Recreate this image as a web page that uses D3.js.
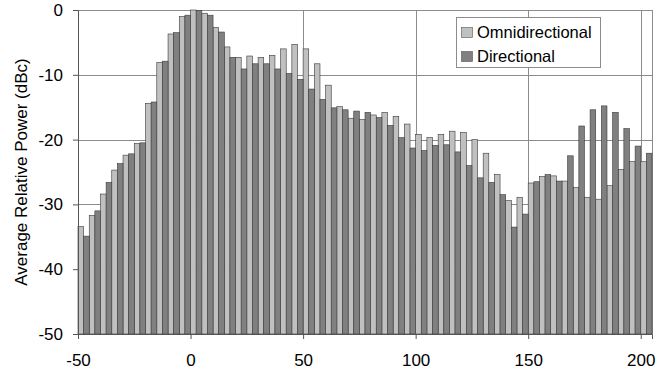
<!DOCTYPE html>
<html>
<head>
<meta charset="utf-8">
<script src="https://cdn.jsdelivr.net/npm/d3@7"></script>
<style>
  body { margin: 0; background: #fff; }
  text { font-family: "Liberation Sans", Arial, sans-serif; fill: #000; }
</style>
</head>
<body>
<svg width="671" height="371"></svg>
<script>
// offset (x) for each pair of bars
var offsets = [-50, -45, -40, -35, -30, -25, -20, -15, -10, -5,
               0, 5, 10, 15, 20, 25, 30, 35, 40, 45,
               50, 55, 60, 65, 70, 75, 80, 85, 90, 95,
               100, 105, 110, 115, 120, 125, 130, 135, 140, 145,
               150, 155, 160, 165, 170, 175, 180, 185, 190, 195, 200];

var omni = [-33.4, -31.7, -28.4, -24.7, -22.4, -20.6, -14.4, -8.1, -3.7, -1.0,
            0.0, -0.5, -2.7, -5.7, -7.3, -7.1, -7.3, -7.0, -6.0, -5.3,
            -6.0, -8.3, -11.6, -14.9, -16.7, -16.9, -16.2, -15.8, -16.4, -17.6,
            -19.2, -19.7, -19.2, -18.7, -18.9, -20.0, -22.1, -25.4, -29.4, -28.9,
            -26.7, -25.7, -25.6, -26.4, -27.4, -28.9, -29.2, -27.1, -24.6, -23.4, -23.4];

var directional = [-34.9, -31.0, -26.6, -23.7, -22.2, -20.5, -14.2, -7.9, -3.5, -0.8,
                   -0.1, -0.8, -3.4, -7.3, -9.1, -8.3, -8.3, -9.1, -9.8, -10.7,
                   -12.2, -13.8, -15.1, -15.4, -15.6, -15.8, -16.6, -17.8, -19.7, -21.3,
                   -21.7, -20.9, -20.8, -21.9, -24.0, -25.9, -26.6, -28.5, -33.5, -31.5,
                   -26.5, -25.4, -26.4, -22.5, -17.9, -15.4, -14.8, -15.8, -18.3, -21.0, -22.1];

var seriesNames = ["Omnidirectional", "Directional"];
var xTicks = [-50, 0, 50, 100, 150, 200];
var yTicks = [-50, -40, -30, -20, -10, 0];

var svg = d3.select("svg"),
    plotLeft = 78, plotRight = 652, plotTop = 10, plotBottom = 334;

var colors = ["#c0c0c0", "#808080"];
var step = offsets[1] - offsets[0];

var x = d3.scaleLinear()
    .domain([offsets[0], offsets[offsets.length - 1] + step])
    .range([plotLeft, plotRight]);

var y = d3.scaleLinear()
    .domain([-50, 0])
    .range([plotBottom, plotTop]);

// gridlines (behind bars)
svg.append("g")
    .selectAll("line")
    .data(yTicks.filter(function (d) { return d > -50; }))
    .enter().append("line")
    .attr("x1", plotLeft).attr("x2", plotRight)
    .attr("y1", function (d) { return Math.round(y(d)) + 0.5; })
    .attr("y2", function (d) { return Math.round(y(d)) + 0.5; })
    .style("stroke", "#8c8c8c");

svg.append("g")
    .selectAll("line")
    .data(xTicks.filter(function (d) { return d > -50; }))
    .enter().append("line")
    .attr("x1", function (d) { return Math.round(x(d)) + 0.5; })
    .attr("x2", function (d) { return Math.round(x(d)) + 0.5; })
    .attr("y1", plotTop).attr("y2", plotBottom)
    .style("stroke", "#8c8c8c");

svg.append("line") // right border
    .attr("x1", plotRight + 0.5).attr("x2", plotRight + 0.5)
    .attr("y1", plotTop).attr("y2", plotBottom)
    .style("stroke", "#8c8c8c");

// bars: light one on the left half of each step, dark one on the right half
var half = step / 2;
[omni, directional].forEach(function (vals, s) {
    svg.append("g")
        .selectAll("rect")
        .data(vals)
        .enter().append("rect")
        .attr("x", function (d, i) { return x(offsets[i] + s * half); })
        .attr("width", function (d, i) { return x(offsets[i] + half) - x(offsets[i]); })
        .attr("y", function (d) { return y(d); })
        .attr("height", function (d) { return y(-50) - y(d); })
        .style("fill", colors[s])
        .style("stroke", "#3a3a3a")
        .style("stroke-width", 0.6);
});

// axes
var plain = function (d) { return String(d); }; // hyphen minus like the original

var xAxis = svg.append("g")
    .attr("transform", "translate(0," + plotBottom + ")")
    .call(d3.axisBottom(x).tickValues(xTicks).tickFormat(plain).tickSize(5).tickPadding(15));

var yAxis = svg.append("g")
    .attr("transform", "translate(" + plotLeft + ",0)")
    .call(d3.axisLeft(y).tickValues(yTicks).tickFormat(plain).tickSize(5).tickPadding(10));

[xAxis, yAxis].forEach(function (ax) {
    ax.select(".domain").style("stroke", "#555");
    ax.selectAll(".tick line").style("stroke", "#555");
    ax.selectAll("text")
        .style("font-size", "17px")
        .style("font-family", "'Liberation Sans', Arial, sans-serif");
});

svg.append("text")
    .attr("transform", "translate(27," + ((plotTop + plotBottom) / 2) + ") rotate(-90)")
    .attr("text-anchor", "middle")
    .style("font-size", "17px")
    .text("Average Relative Power (dBc)");

// legend
var legend = svg.append("g")
    .attr("transform", "translate(456,17)");

legend.append("rect")
    .attr("x", 0.5).attr("y", 0.5)
    .attr("width", 144).attr("height", 50)
    .style("fill", "#fff")
    .style("stroke", "#8c8c8c");

var item = legend.selectAll(".item")
    .data(seriesNames)
    .enter().append("g")
    .attr("class", "item")
    .attr("transform", function (d, i) { return "translate(0," + (i * 24) + ")"; });

item.append("rect")
    .attr("x", 5.5).attr("y", 10.5)
    .attr("width", 11).attr("height", 10)
    .style("fill", function (d, i) { return colors[i]; })
    .style("stroke", "#555")
    .style("stroke-width", 0.6);

item.append("text")
    .attr("x", 21).attr("y", 21)
    .style("font-size", "16.5px")
    .text(function (d) { return d; });
</script>
</body>
</html>
